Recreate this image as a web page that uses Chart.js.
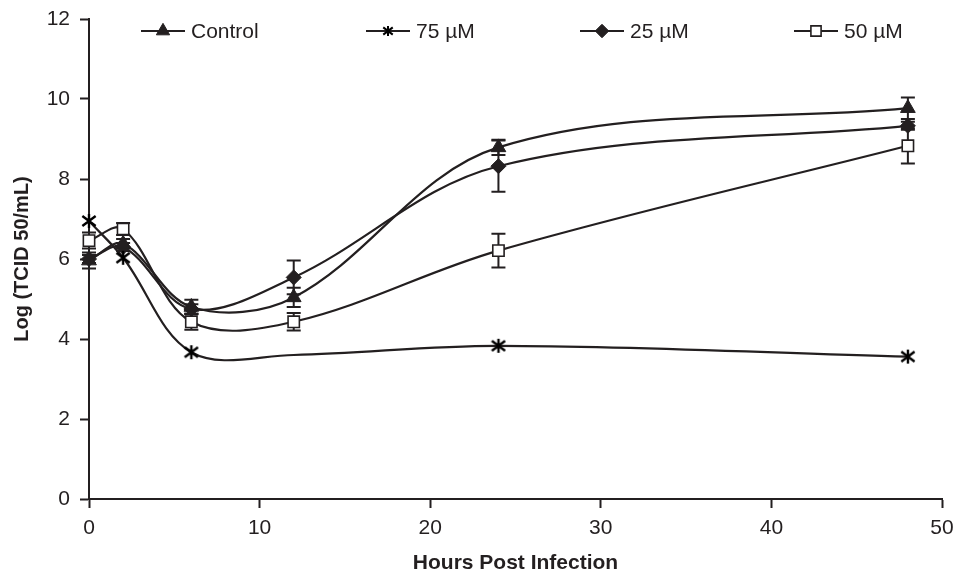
<!DOCTYPE html>
<html>
<head>
<meta charset="utf-8">
<script src="https://cdn.jsdelivr.net/npm/chart.js@4.4.1/dist/chart.umd.min.js"></script>
<style>
  html, body { margin: 0; padding: 0; background: #ffffff; }
  #wrap { width: 958px; height: 572px; }
</style>
</head>
<body>
<div id="wrap"><canvas id="chart" width="958" height="572"></canvas></div>
<script>
// Virus titre over time, mean ± error per treatment group
const hours = [0, 2, 6, 12, 24, 48];

const controlMean = [5.96, 6.38, 4.80, 5.04, 8.79, 9.77];
const controlErr  = [0.20, 0.12, 0.18, 0.24, 0.19, 0.27];

const uM75Mean = [6.95, 6.03, 3.67, 3.60, 3.83, 3.56];
const uM75Err  = [0, 0, 0, 0, 0, 0];
const uM75Shown = [true, true, true, false, true, true];

const uM25Mean = [6.00, 6.30, 4.75, 5.54, 8.32, 9.33];
const uM25Err  = [0.10, 0.10, 0.12, 0.42, 0.64, 0.10];

const uM50Mean = [6.46, 6.75, 4.43, 4.43, 6.21, 8.83];
const uM50Err  = [0.20, 0.15, 0.20, 0.22, 0.42, 0.44];

const seriesNames = ['Control', '75 \u00b5M', '25 \u00b5M', '50 \u00b5M'];
const xTickStep = 10;
const yTickStep = 2;

const INK = '#231f20';
const FONT = '"Liberation Sans", Arial, Helvetica, sans-serif';

// six-armed asterisk marker
function makeAsterisk(size, lw) {
  const c = document.createElement('canvas');
  c.width = size; c.height = size;
  const g = c.getContext('2d');
  const m = size / 2, r = size / 2 - 1;
  g.strokeStyle = '#000'; g.lineWidth = lw; g.lineCap = 'butt';
  g.beginPath();
  g.moveTo(m, m - r); g.lineTo(m, m + r);
  const dx = r * 0.95, dy = r * 0.72;
  g.moveTo(m - dx, m - dy); g.lineTo(m + dx, m + dy);
  g.moveTo(m - dx, m + dy); g.lineTo(m + dx, m - dy);
  g.stroke();
  return c;
}
const asterisk = makeAsterisk(16, 2.4);
const asteriskSmall = makeAsterisk(12, 2);

function toPoints(xs, ys) { return xs.map((x, i) => ({ x: x, y: ys[i] })); }

const datasets = [
  {
    label: seriesNames[0], data: toPoints(hours, controlMean), errors: controlErr,
    pointStyle: 'triangle', pointRadius: 8.5, pointBackgroundColor: INK, pointBorderColor: INK, pointBorderWidth: 1
  },
  {
    label: seriesNames[1], data: toPoints(hours, uM75Mean), errors: uM75Err,
    pointStyle: asterisk, pointRadius: uM75Shown.map(s => s ? 7 : 0), legendStyle: asteriskSmall
  },
  {
    label: seriesNames[2], data: toPoints(hours, uM25Mean), errors: uM25Err,
    pointStyle: 'rectRot', pointRadius: 7.5, pointBackgroundColor: INK, pointBorderColor: INK, pointBorderWidth: 1
  },
  {
    label: seriesNames[3], data: toPoints(hours, uM50Mean), errors: uM50Err,
    pointStyle: 'rect', pointRadius: 8, pointBackgroundColor: '#ffffff', pointBorderColor: INK, pointBorderWidth: 1.6
  }
].map(d => Object.assign({
  borderColor: INK, borderWidth: 2.2, tension: 0.35, fill: false, clip: false,
  pointHoverRadius: 0
}, d));

// vertical error bars with caps, placed through the chart scales
const errorBars = {
  id: 'errorBars',
  beforeDatasetsDraw(chart) {
    const { ctx, scales: { x, y } } = chart;
    ctx.save();
    ctx.strokeStyle = INK; ctx.lineWidth = 2;
    chart.data.datasets.forEach(ds => {
      if (!ds.errors) return;
      ds.data.forEach((p, i) => {
        const e = ds.errors[i];
        if (!e) return;
        const px = x.getPixelForValue(p.x);
        const top = y.getPixelForValue(p.y + e);
        const bot = y.getPixelForValue(p.y - e);
        const cap = 7;
        ctx.beginPath();
        ctx.moveTo(px, top); ctx.lineTo(px, bot);
        ctx.moveTo(px - cap, top); ctx.lineTo(px + cap, top);
        ctx.moveTo(px - cap, bot); ctx.lineTo(px + cap, bot);
        ctx.stroke();
      });
    });
    ctx.restore();
  }
};

// legend row across the top: short line with the series marker, then the name
const lineLegend = {
  id: 'lineLegend',
  afterDraw(chart) {
    const { ctx } = chart;
    const starts = [141, 366, 580, 794], y0 = 31, w = 44;
    ctx.save();
    chart.data.datasets.forEach((ds, i) => {
      const x0 = starts[i];
      ctx.strokeStyle = INK; ctx.lineWidth = 2;
      ctx.beginPath(); ctx.moveTo(x0, y0); ctx.lineTo(x0 + w, y0); ctx.stroke();
      const r = Array.isArray(ds.pointRadius) ? Math.max(...ds.pointRadius) : ds.pointRadius;
      ctx.fillStyle = ds.pointBackgroundColor || INK;
      ctx.strokeStyle = ds.pointBorderColor || INK;
      ctx.lineWidth = ds.pointBorderWidth || 1;
      Chart.helpers.drawPoint(ctx, {
        pointStyle: ds.legendStyle || ds.pointStyle, radius: r * 0.9, rotation: 0,
        borderWidth: ds.pointBorderWidth || 0
      }, x0 + w / 2, y0);
      ctx.fillStyle = INK;
      ctx.font = '21px ' + FONT;
      ctx.textAlign = 'left'; ctx.textBaseline = 'middle';
      ctx.fillText(ds.label, x0 + w + 6, y0 + 1);
    });
    ctx.restore();
  }
};

new Chart(document.getElementById('chart'), {
  type: 'line',
  data: { datasets: datasets },
  plugins: [errorBars, lineLegend],
  options: {
    responsive: false,
    animation: false,
    events: [],
    layout: { padding: { top: 19, right: 16, bottom: 0, left: 0 } },
    plugins: { legend: { display: false }, tooltip: { enabled: false } },
    scales: {
      x: {
        type: 'linear', min: 0, max: 50,
        afterFit(scale) { scale.height = 73; scale.paddingRight = 0; scale.paddingLeft = 0; },
        ticks: { stepSize: xTickStep, padding: 8, color: INK, font: { family: FONT, size: 21 }, maxRotation: 0 },
        grid: { drawOnChartArea: false, drawTicks: true, tickLength: 9, tickColor: INK, tickWidth: 2 },
        border: { display: true, color: INK, width: 2 },
        title: {
          display: true, text: 'Hours Post Infection', color: INK,
          font: { family: FONT, size: 21, weight: 'bold', lineHeight: 0.8 }, padding: { top: 0, bottom: 0 }
        }
      },
      y: {
        type: 'linear', min: 0, max: 12,
        afterFit(scale) { scale.width = 89; scale.paddingTop = 0; scale.paddingBottom = 0; },
        ticks: { stepSize: yTickStep, padding: 10, color: INK, font: { family: FONT, size: 21 } },
        grid: { drawOnChartArea: false, drawTicks: true, tickLength: 9, tickColor: INK, tickWidth: 2 },
        border: { display: true, color: INK, width: 2 },
        title: {
          display: true, text: 'Log (TCID 50/mL)', color: INK,
          font: { family: FONT, size: 20, weight: 'bold' }, padding: { top: 10, bottom: 0 }
        }
      }
    }
  }
});
</script>
</body>
</html>
